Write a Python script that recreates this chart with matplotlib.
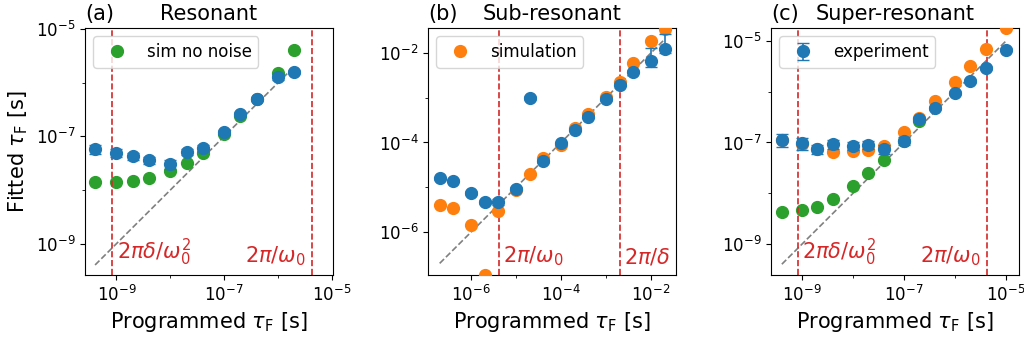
import numpy as np
import matplotlib.pyplot as plt

nan = np.nan

# (a) resonant
x_a = [4e-10, 1e-9, 2e-9, 4e-9, 1e-8, 2e-8, 4e-8, 1e-7, 2e-7, 4e-7, 1e-6, 2e-6]
exp_a = [5.8e-8, 5.0e-8, 4.3e-8, 3.6e-8, 3.05e-8, 5.2e-8, 6.1e-8, 1.21e-7, 2.65e-7, 5.05e-7, 1.28e-6, 1.58e-6]
err_a = [1.1e-8, 8e-9, 6e-9, 6e-9, 6e-9, 7e-9, 8e-9, 1.2e-8, 2.5e-8, 4e-8, 1.5e-7, 1.5e-7]
sim_a = [nan] * 12
nonoise_a = [1.39e-8, 1.39e-8, 1.49e-8, 1.67e-8, 2.22e-8, 3.23e-8, 5.0e-8, 1.12e-7, 2.4e-7, 5.0e-7, 1.55e-6, 4.0e-6]

# (b) sub-resonant
x_b = [2e-7, 4e-7, 1e-6, 2e-6, 4e-6, 1e-5, 2e-5, 4e-5, 1e-4, 2e-4, 4e-4, 1e-3, 2e-3, 4e-3, 1e-2, 2e-2]
exp_b = [1.61e-5, 1.40e-5, 7.4e-6, 4.8e-6, 4.7e-6, 9.3e-6, 1.0e-3, 3.8e-5, 9.8e-5, 1.95e-4,
         3.8e-4, 9.3e-4, 1.94e-3, 3.8e-3, 6.5e-3, 1.25e-2]
err_b_lo = [1.3e-6, 1.1e-6, 7e-7, 5e-7, 7e-7, 8e-7, 9e-5, 3e-6, 7e-6, 1.5e-5,
            3e-5, 8e-5, 1.5e-4, 3e-4, 1.6e-3, 2.5e-3]
err_b_hi = [1.3e-6, 1.1e-6, 7e-7, 5e-7, 7e-7, 8e-7, 9e-5, 3e-6, 7e-6, 1.5e-5,
            3e-5, 8e-5, 1.5e-4, 3e-4, 6.4e-3, 1.4e-2]
sim_b = [4.1e-6, 3.4e-6, 1.46e-6, 1.1e-7, 2.9e-6, 8.5e-6, 2.0e-5, 4.5e-5, 8.9e-5, 2.1e-4,
         4.3e-4, 1.03e-3, 2.3e-3, 6.1e-3, 1.8e-2, 3.5e-2]
nonoise_b = [nan] * 16

# (c) super-resonant
x_c = [4e-10, 1e-9, 2e-9, 4e-9, 1e-8, 2e-8, 4e-8, 1e-7, 2e-7, 4e-7, 1e-6, 2e-6, 4e-6, 1e-5]
exp_c = [1.13e-7, 9.7e-8, 7.5e-8, 9.3e-8, 8.6e-8, 9.1e-8, 7.5e-8, 1.08e-7, 2.9e-7, 4.8e-7,
         9.6e-7, 1.62e-6, 2.9e-6, 6.7e-6]
err_c = [3.2e-8, 2.5e-8, 1.5e-8, 2e-8, 1.5e-8, 1.5e-8, 1.5e-8, 2e-8, 3e-8, 4e-8,
         8e-8, 1.3e-7, 2.5e-7, 5e-7]
sim_c = [1.1e-7, 9.5e-8, 7.5e-8, 6.4e-8, 6.8e-8, 7.2e-8, 8.6e-8, 1.58e-7, 3.0e-7, 6.6e-7,
         1.58e-6, 3.2e-6, 7.0e-6, 1.8e-5]
nonoise_c = [4.2e-9, 4.6e-9, 5.3e-9, 7.7e-9, 1.36e-8, 2.5e-8, 4.6e-8, 1.05e-7, 2.7e-7,
             nan, nan, nan, nan, nan]

titles = ['Resonant', 'Sub-resonant', 'Super-resonant']
letters = ['(a)', '(b)', '(c)']
legend_labels = ['sim no noise', 'simulation', 'experiment']

# characteristic times: 2*pi*delta/omega0^2, 2*pi/omega0, 2*pi/delta
t_low = 8.4e-10
t_res = 4.2e-6
t_delta = 2e-3

panels = [
    dict(x=x_a, exp=exp_a, err=[err_a, err_a], sim=sim_a, nonoise=nonoise_a,
         lim=(2.6e-10, 1.05e-5), major=[1e-9, 1e-7, 1e-5], minor=[1e-8, 1e-6],
         marks=[(t_low, r'$2\pi\delta/\omega_0^2$', 'left'), (t_res, r'$2\pi/\omega_0$', 'right')]),
    dict(x=x_b, exp=exp_b, err=[err_b_lo, err_b_hi], sim=sim_b, nonoise=nonoise_b,
         lim=(1.1e-7, 3.6e-2), major=[1e-6, 1e-4, 1e-2], minor=[1e-5, 1e-3],
         marks=[(t_res, r'$2\pi/\omega_0$', 'left'), (t_delta, r'$2\pi/\delta$', 'left')]),
    dict(x=x_c, exp=exp_c, err=[err_c, err_c], sim=sim_c, nonoise=nonoise_c,
         lim=(2.45e-10, 1.8e-5), major=[1e-9, 1e-7, 1e-5], minor=[1e-8, 1e-6],
         marks=[(t_low, r'$2\pi\delta/\omega_0^2$', 'left'), (t_res, r'$2\pi/\omega_0$', 'right')]),
]

fig = plt.figure(figsize=(10.24, 3.38), dpi=100)
W, H = 1024, 338
lefts = [85, 428, 771]

for i, p in enumerate(panels):
    ax = fig.add_axes([lefts[i] / W, 1 - 275 / H, 248 / W, 247 / H])
    ax.set_xscale('log')
    ax.set_yscale('log')

    x = np.array(p['x'])
    ax.plot([x.min(), x.max()], [x.min(), x.max()], '--', color='gray', lw=1.2, zorder=1)

    h_nn, = ax.plot(x, p['nonoise'], 'o', color='tab:green', ms=8.5, zorder=2)
    h_sim, = ax.plot(x, p['sim'], 'o', color='tab:orange', ms=8.5, zorder=3)
    h_exp = ax.errorbar(x, p['exp'], yerr=p['err'], fmt='o', color='tab:blue', ms=8.5,
                        capsize=4, elinewidth=1.2, zorder=4)

    for t, lab, side in p['marks']:
        ax.axvline(t, color='tab:red', ls='--', lw=1.2)
        dx = 3 if side == 'left' else -4
        ax.annotate(lab, xy=(t, 0.03), xycoords=ax.get_xaxis_transform(),
                    xytext=(dx, 0), textcoords='offset points',
                    ha=side, va='bottom', color='tab:red', fontsize=15)

    ax.set_xticks(p['major'])
    ax.set_yticks(p['major'])
    ax.set_xticks(p['minor'], minor=True)
    ax.set_yticks(p['minor'], minor=True)
    ax.set_xticklabels([], minor=True)
    ax.set_yticklabels([], minor=True)
    ax.set_xlim(p['lim'])
    ax.set_ylim(p['lim'])
    ax.tick_params(labelsize=12)

    ax.set_title(titles[i], fontsize=15)
    ax.set_title(letters[i], loc='left', fontsize=15)
    ax.set_xlabel(r'Programmed $\tau_\mathrm{F}$ [s]', fontsize=15)
    if i == 0:
        ax.set_ylabel(r'Fitted $\tau_\mathrm{F}$ [s]', fontsize=15)

    handle = [h_nn, h_sim, h_exp][i]
    ax.legend([handle], [legend_labels[i]], loc='upper left', fontsize=12)

fig.savefig('out.png', dpi=100)
